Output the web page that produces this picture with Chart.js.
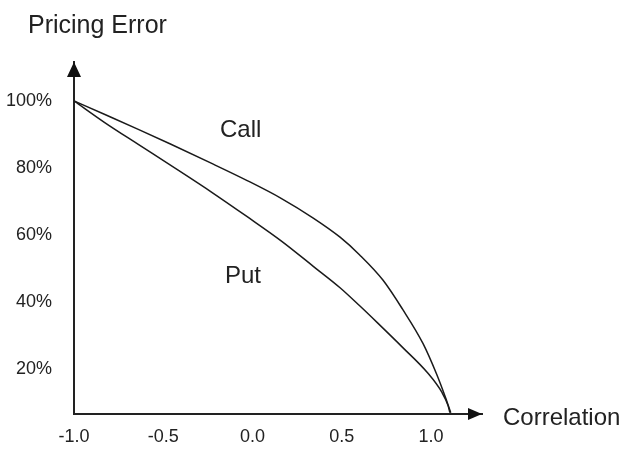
<!DOCTYPE html>
<html>
<head>
<meta charset="utf-8">
<script src="https://cdn.jsdelivr.net/npm/chart.js@4.4.1/dist/chart.umd.min.js"></script>
<style>
  html, body { margin: 0; padding: 0; background: #fff; }
  #wrap { width: 621px; height: 450px; position: relative; }
</style>
</head>
<body>
<div id="wrap"><canvas id="pricingChart"></canvas></div>
<script>
// curves (correlation vs pricing error in %)
const callX = [-1.0, -0.83, -0.64, -0.46, -0.22, -0.03, 0.16, 0.34, 0.49, 0.60, 0.73, 0.84, 0.955, 1.03, 1.08, 1.11];
const callY = [100, 96.0, 91.5, 87.1, 81.1, 76.2, 70.9, 65.0, 59.3, 54.0, 46.5, 37.8, 27.5, 18.5, 11.5, 6.9];
const putX = [-1.0, -0.83, -0.64, -0.46, -0.22, -0.03, 0.16, 0.34, 0.49, 0.60, 0.70, 0.84, 0.98, 1.06, 1.095, 1.105];
const putY = [100, 93.6, 87.0, 80.8, 72.4, 65.4, 58.2, 50.6, 44.2, 38.8, 33.7, 26.4, 18.8, 13.0, 9.0, 6.9];

const xTicks = [-1.0, -0.5, 0.0, 0.5, 1.0];
const yTicks = [20, 40, 60, 80, 100];

const toPoints = (xs, ys) => xs.map((x, i) => ({ x: x, y: ys[i] }));

Chart.defaults.font.family = "'Liberation Sans', Arial, sans-serif";
Chart.defaults.color = '#222';

// arrows + free text
const extras = {
  id: 'extras',
  afterDraw(chart) {
    const { ctx, chartArea: a } = chart;
    ctx.save();
    ctx.fillStyle = '#111';
    ctx.beginPath();
    ctx.moveTo(a.left, a.top);
    ctx.lineTo(a.left - 7, a.top + 15);
    ctx.lineTo(a.left + 7, a.top + 15);
    ctx.closePath();
    ctx.fill();
    ctx.beginPath();
    ctx.moveTo(a.right, a.bottom);
    ctx.lineTo(a.right - 14, a.bottom - 6);
    ctx.lineTo(a.right - 14, a.bottom + 6);
    ctx.closePath();
    ctx.fill();

    ctx.fillStyle = '#222';
    ctx.textBaseline = 'alphabetic';
    ctx.textAlign = 'left';
    ctx.font = "25px 'Liberation Sans', Arial, sans-serif";
    ctx.fillText('Pricing Error', 28, 33);
    ctx.font = "24px 'Liberation Sans', Arial, sans-serif";
    ctx.fillText('Correlation', 503, 425);
    ctx.fillText('Call', 220, 137);
    ctx.fillText('Put', 225, 283);
    ctx.restore();
  }
};

const ctx = document.getElementById('pricingChart').getContext('2d');

const pricingChart = new Chart(ctx, {
  type: 'scatter',
  data: {
    datasets: [
      {
        label: 'Call',
        data: toPoints(callX, callY),
        showLine: true,
        borderColor: '#1a1a1a',
        borderWidth: 1.5,
        pointRadius: 0,
        cubicInterpolationMode: 'monotone',
      },
      {
        label: 'Put',
        data: toPoints(putX, putY),
        showLine: true,
        borderColor: '#1a1a1a',
        borderWidth: 1.5,
        pointRadius: 0,
        cubicInterpolationMode: 'monotone',
      },
    ],
  },
  options: {
    responsive: true,
    maintainAspectRatio: false,
    animation: false,
    layout: { padding: { left: 0, top: 62, right: 139, bottom: 0 } },
    plugins: {
      legend: { display: false },
      tooltip: { enabled: false },
    },
    scales: {
      x: {
        type: 'linear',
        min: -1,
        max: 1.285,
        grid: { display: false, drawTicks: false },
        border: { display: true, color: '#222', width: 2 },
        afterBuildTicks: (scale) => { scale.ticks = xTicks.map(v => ({ value: v })); },
        afterFit: (scale) => { scale.height = 36; },
        ticks: {
          padding: 12,
          font: { size: 18 },
          callback: (v) => Number(v).toFixed(1),
        },
      },
      y: {
        type: 'linear',
        min: 6.5,
        max: 111.6,
        grid: { display: false, drawTicks: false },
        border: { display: true, color: '#222', width: 2 },
        afterBuildTicks: (scale) => { scale.ticks = yTicks.map(v => ({ value: v })); },
        afterFit: (scale) => { scale.width = 74; },
        ticks: {
          padding: 22,
          font: { size: 18 },
          callback: (v) => v + '%',
        },
      },
    },
  },
  plugins: [extras],
});
</script>
</body>
</html>
